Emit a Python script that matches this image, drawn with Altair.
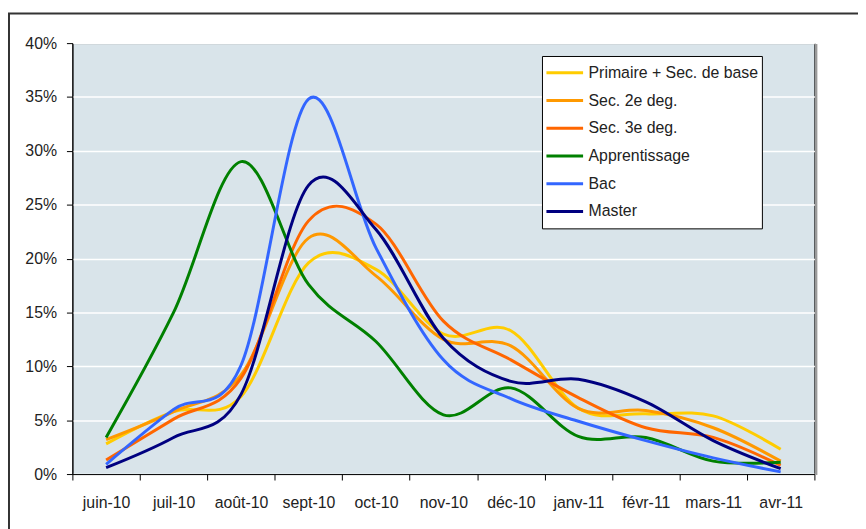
import altair as alt
import pandas as pd

months = ["juin-10", "juil-10", "août-10", "sept-10", "oct-10", "nov-10",
          "déc-10", "janv-11", "févr-11", "mars-11", "avr-11"]

series_names = ["Primaire + Sec. de base", "Sec. 2e deg.", "Sec. 3e deg.",
                "Apprentissage", "Bac", "Master"]
series_colors = ["#FFCC00", "#FF9900", "#FF6600", "#008000", "#3366FF", "#000080"]

primaire = [2.8, 5.8, 7.2, 19.6, 19.0, 13.0, 13.3, 6.1, 5.6, 5.4, 2.3]
sec2 = [3.2, 5.8, 9.2, 21.9, 18.4, 12.5, 11.9, 6.1, 5.9, 4.3, 1.2]
sec3 = [1.3, 5.1, 8.9, 23.5, 23.2, 14.2, 10.6, 7.1, 4.3, 3.4, 0.8]
apprentissage = [3.4, 15.0, 29.0, 17.6, 12.3, 5.5, 8.0, 3.5, 3.4, 1.2, 1.1]
bac = [0.9, 6.0, 10.1, 34.8, 21.0, 10.6, 7.0, 4.9, 3.1, 1.5, 0.2]
master = [0.6, 3.4, 7.4, 26.8, 22.7, 12.6, 8.6, 8.8, 6.7, 3.1, 0.5]

y_ticks = [0, 0.05, 0.10, 0.15, 0.20, 0.25, 0.30, 0.35, 0.40]

all_series = [primaire, sec2, sec3, apprentissage, bac, master]
rows = []
for si, (name, vals) in enumerate(zip(series_names, all_series)):
    for m, v in zip(months, vals):
        rows.append({"month": m, "value": v / 100.0, "serie": name, "order": si})
df = pd.DataFrame(rows)

FONT = "Liberation Sans"
TXT = "#222222"
FS = 16

lines = alt.Chart(df).mark_line(
    strokeWidth=3, interpolate="cardinal", clip=False
).encode(
    x=alt.X("month:N", sort=months, bandPosition=0.5,
            scale=alt.Scale(type="band", paddingInner=0, paddingOuter=0),
            axis=alt.Axis(title=None, labelAngle=0, tickBand="extent",
                          tickSize=6, tickColor="black", domainColor="black",
                          labelFont=FONT, labelFontSize=FS, labelColor=TXT,
                          labelPadding=15, grid=False)),
    y=alt.Y("value:Q", scale=alt.Scale(domain=[0, 0.4], nice=False, zero=True),
            axis=alt.Axis(title=None, values=y_ticks, format=".0%",
                          tickSize=6, tickColor="black", domainColor="black",
                          labelFont=FONT, labelFontSize=FS, labelColor=TXT,
                          labelPadding=10, grid=True, gridColor="white",
                          gridWidth=1.5)),
    color=alt.Color("serie:N", sort=series_names,
                    scale=alt.Scale(domain=series_names, range=series_colors),
                    legend=alt.Legend(title=None, orient="none", legendX=474, legendY=13,
                                      symbolType="stroke", symbolSize=1369,
                                      symbolStrokeWidth=3, fillColor="white",
                                      strokeColor="black", padding=3,
                                      clipHeight=28, rowPadding=0, labelOffset=4,
                                      labelFont=FONT, labelFontSize=FS,
                                      labelColor=TXT, labelLimit=400)),
    order=alt.Order("order:Q"),
    detail="serie:N",
)

frame_df = pd.DataFrame({"k": [0]})
frame = alt.Chart(frame_df).mark_rect(
    fill=None, fillOpacity=0, stroke="#333333", strokeWidth=2, clip=False
).encode(
    x=alt.value(-64), x2=alt.value(820), y=alt.value(-30), y2=alt.value(520)
)

shadow = alt.Chart(frame_df).mark_rule(
    stroke="#9A9A9A", strokeWidth=2, clip=False
).encode(
    x=alt.value(751), y=alt.value(1), y2=alt.value(436)
)

chart = alt.layer(frame, shadow, lines).properties(
    width=749, height=435,
    autosize=alt.AutoSizeParams(type="none"),
    padding={"left": 65, "top": 33, "right": 44, "bottom": 53},
    background="white",
).configure_view(
    fill="#D9E4EA", stroke="black", strokeWidth=1
)

chart.save("out.html", embed_options={"renderer": "svg", "actions": False})
